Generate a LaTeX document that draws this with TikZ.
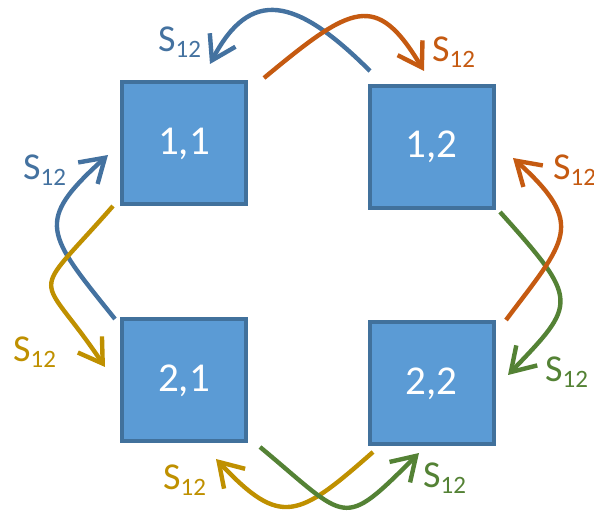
\documentclass[tikz,border=0pt]{standalone}
\usepackage{fontspec}
\setmainfont{Carlito}
\usepackage{tikz}
\usetikzlibrary{
  arrows.meta, % Straight Barb 开口箭头
  calc         % 坐标计算
}
\definecolor{boxfill}{RGB}{91,155,213}   % 方块填充蓝
\definecolor{boxline}{RGB}{65,113,156}   % 方块边框深蓝
\definecolor{flowblue}{RGB}{68,114,160}  % 蓝色箭头
\definecolor{floworange}{RGB}{197,90,17} % 橙色箭头
\definecolor{flowgold}{RGB}{191,144,0}   % 金黄色箭头
\definecolor{flowgreen}{RGB}{84,130,53}  % 绿色箭头
\tikzset{
  cell/.style={
    draw=boxline,
    fill=boxfill,
    line width=4pt,
    minimum width=124pt,
    minimum height=122pt,
    inner sep=0pt,
    text=white,
    font=\fontsize{41}{48}\selectfont
  },
  flow/.style={
    -{Straight Barb[length=23pt,width=29pt]},
    line width=4.4pt
  },
  sublabel/.style={
    anchor=base west,
    inner sep=0pt,
    font=\fontsize{38}{42}\selectfont
  }
}
\newcommand{\slabel}{S\raisebox{-6pt}{\fontsize{25}{28}\selectfont 12}} % 带下标的 S12 标签

\begin{document}
\begin{tikzpicture}[x=1pt, y=1pt] % 整体思路：四个方块排成 2x2，相邻方块之间用一对交叉的弯箭头相连
  \useasboundingbox (0,0) rectangle (594,511); % 固定画面大小

  % 四个方块
  \node[cell] (c11) at (184,367.5) {1,1}; % 左上方块
  \node[cell] (c12) at (431.5,364) {1,2}; % 右上方块
  \node[cell] (c21) at (184,130.5) {2,1}; % 左下方块
  \node[cell] (c22) at (431.5,127.5) {2,2}; % 右下方块

  % 上方一对箭头（1,2 -> 1,1 与 1,1 -> 1,2）
  \draw[flow, flowblue] ($(c12.north west)+(2.5,13)$) .. controls +(-75,75) and +(40,76) .. ($(c11.north)+(26,16.5)$); % 蓝色：从右往左
  \draw[flow, floworange] ($(c11.north east)+(16,2.5)$) .. controls +(88,73) and +(-48,80) .. ($(c12.north)+(-7.5,13)$); % 橙色：从左往右

  % 左侧一对箭头（2,1 -> 1,1 与 1,1 -> 2,1）
  \draw[flow, flowblue] ($(c21.north west)+(-5,-1.5)$) .. controls +(-69,86) and +(-74,-67) .. ($(c11.west)+(-12,-11.5)$); % 蓝色：向上
  \draw[flow, flowgold] ($(c11.south west)+(-7,0.5)$) .. controls +(-86,-98) and +(-67,100) .. ($(c21.west)+(-15,13.5)$); % 金色：向下

  % 右侧一对箭头（1,2 -> 2,2 与 2,2 -> 1,2）
  \draw[flow, flowgreen] ($(c12.south east)+(4.5,-2)$) .. controls +(80,-89) and +(69,72) .. ($(c22.east)+(12.5,8.5)$); % 绿色：向下
  \draw[flow, floworange] ($(c22.north east)+(10.5,0.5)$) .. controls +(60,80) and +(74,-67) .. ($(c12.east)+(17.5,-11)$); % 橙色：向上

  % 下方一对箭头（2,2 -> 2,1 与 2,1 -> 2,2）
  \draw[flow, flowgold] ($(c22.south west)+(5.5,-5.5)$) .. controls +(-75,-66) and +(65,-69) .. ($(c21.south)+(32,-15.5)$); % 金色：从右往左
  \draw[flow, flowgreen] ($(c21.south east)+(12,-3.5)$) .. controls +(89,-74) and +(-78,-78) .. ($(c22.south)+(-12.5,-6.5)$); % 绿色：从左往右

  % S12 标签
  \node[sublabel, text=flowblue] (s1) at (158,459) {\slabel};   % 上方蓝色
  \node[sublabel, text=floworange] (s2) at (432,449) {\slabel}; % 上方橙色
  \node[sublabel, text=flowblue] (s3) at (23,331) {\slabel};    % 左侧蓝色
  \node[sublabel, text=flowgold] (s4) at (13,149) {\slabel};    % 左侧金色
  \node[sublabel, text=floworange] (s5) at (553,331) {\slabel}; % 右侧橙色，右缘被画面裁去一部分
  \node[sublabel, text=flowgreen] (s6) at (545,129) {\slabel};  % 右侧绿色
  \node[sublabel, text=flowgold] (s7) at (163,21) {\slabel};    % 下方金色
  \node[sublabel, text=flowgreen] (s8) at (423,23) {\slabel};   % 下方绿色

\end{tikzpicture}
\end{document}
